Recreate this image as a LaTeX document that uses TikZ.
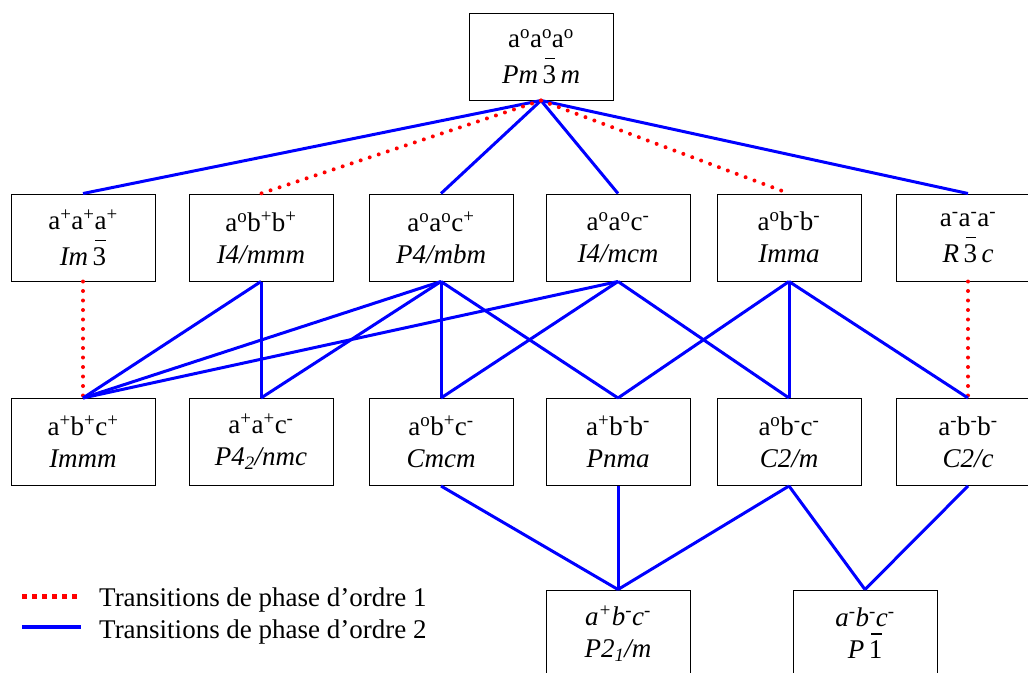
\documentclass[tikz,border=0pt]{standalone}
\usepackage{fontspec}
\setmainfont{Liberation Serif}
\newcommand\barre[1]{\makebox[0pt][l]{\hspace{0.1em}\rule[0.9em]{0.38em}{1.2pt}}\textup{#1}}
\newcommand\expo[1]{\textsuperscript{#1}}

\begin{document}
\begin{tikzpicture}[x=1pt,y=-1pt]
  \tikzstyle{every node}=[font=\fontsize{27}{32}\selectfont]
  \tikzstyle{phase}=[draw, line width=1pt, fill=white, minimum width=144pt,
    minimum height=87pt, inner sep=0pt, align=center]
  \tikzstyle{ordre1}=[red, line width=4pt, line cap=round, dash pattern=on 0pt off 9.5pt]
  \tikzstyle{ordre2}=[blue, line width=3pt]
  \useasboundingbox[fill=white] (0,0) rectangle (1028,672);
  %
  \node[phase] (pmm) at (541,56.5) {a\expo{o}a\expo{o}a\expo{o}\\[4pt]\textit{Pm\,\barre{3}\,m}};
  %
  \node[phase] (imt)   at (83,237.5)  {a\expo{+}a\expo{+}a\expo{+}\\[4pt]\textit{Im\,\barre{3}}};
  \node[phase] (i4mmm) at (261,237.5) {a\expo{o}b\expo{+}b\expo{+}\\\textit{I4/mmm}};
  \node[phase] (p4mbm) at (441,237.5) {a\expo{o}a\expo{o}c\expo{+}\\\textit{P4/mbm}};
  \node[phase] (i4mcm) at (618,237.5) {a\expo{o}a\expo{o}c\expo{-}\\\textit{I4/mcm}};
  \node[phase] (imma)  at (789,237.5) {a\expo{o}b\expo{-}b\expo{-}\\\textit{Imma}};
  \node[phase] (rtc)   at (968,237.5) {a\expo{-}a\expo{-}a\expo{-}\\[4pt]\textit{R\,\barre{3}\,c}};
  %
  \node[phase] (immm)   at (83,442)  {a\expo{+}b\expo{+}c\expo{+}\\\textit{Immm}};
  \node[phase] (p42nmc) at (261,442) {a\expo{+}a\expo{+}c\expo{-}\\\textit{P4\textsubscript{2}/nmc}};
  \node[phase] (cmcm)   at (441,442) {a\expo{o}b\expo{+}c\expo{-}\\\textit{Cmcm}};
  \node[phase] (pnma)   at (618,442) {a\expo{+}b\expo{-}b\expo{-}\\\textit{Pnma}};
  \node[phase] (c2m)    at (789,442) {a\expo{o}b\expo{-}c\expo{-}\\\textit{C2/m}};
  \node[phase] (c2c)    at (968,442) {a\expo{-}b\expo{-}b\expo{-}\\\textit{C2/c}};
  %
  \node[phase] (p21m) at (618,633.5) {\textit{a\expo{+}b\expo{-}c\expo{-}}\\\textit{P2\textsubscript{1}/m}};
  \node[phase] (p1)   at (865,633.5) {\textit{a\expo{-}b\expo{-}c\expo{-}}\\\textit{P\,\barre{1}}};
  %
  \draw[ordre2] (pmm.south) -- (imt.north);
  \draw[ordre2] (pmm.south) -- (p4mbm.north);
  \draw[ordre2] (pmm.south) -- (i4mcm.north);
  \draw[ordre2] (pmm.south) -- (rtc.north);
  \draw[ordre1] (pmm.south) -- (i4mmm.north);
  \draw[ordre1] (pmm.south) -- (imma.north);
  %
  \draw[ordre1] (imt.south) -- (immm.north);
  \draw[ordre1] (rtc.south) -- (c2c.north);
  \draw[ordre2] (i4mmm.south) -- (immm.north);
  \draw[ordre2] (i4mmm.south) -- (p42nmc.north);
  \draw[ordre2] (p4mbm.south) -- (immm.north);
  \draw[ordre2] (p4mbm.south) -- (p42nmc.north);
  \draw[ordre2] (p4mbm.south) -- (cmcm.north);
  \draw[ordre2] (p4mbm.south) -- (pnma.north);
  \draw[ordre2] (i4mcm.south) -- (immm.north);
  \draw[ordre2] (i4mcm.south) -- (cmcm.north);
  \draw[ordre2] (i4mcm.south) -- (c2m.north);
  \draw[ordre2] (imma.south) -- (pnma.north);
  \draw[ordre2] (imma.south) -- (c2m.north);
  \draw[ordre2] (imma.south) -- (c2c.north);
  %
  \draw[ordre2] (cmcm.south) -- (p21m.north);
  \draw[ordre2] (pnma.south) -- (p21m.north);
  \draw[ordre2] (c2m.south) -- (p21m.north);
  \draw[ordre2] (c2m.south) -- (p1.north);
  \draw[ordre2] (c2c.south) -- (p1.north);
  %
  % legende
  \node[anchor=base west, inner sep=0pt] (leg1) at (99,606) {Transitions de phase d’ordre 1};
  \node[anchor=base west, inner sep=0pt] (leg2) at (99,638) {Transitions de phase d’ordre 2};
  \coordinate (r1) at (22,596);
  \coordinate (r2) at (78,596);
  \coordinate (b1) at (22,627);
  \coordinate (b2) at (81,627);
  \draw[red, line width=5pt, dash pattern=on 5pt off 5pt] (r1) -- (r2);
  \draw[blue, line width=4pt] (b1) -- (b2);
\end{tikzpicture}
\end{document}
